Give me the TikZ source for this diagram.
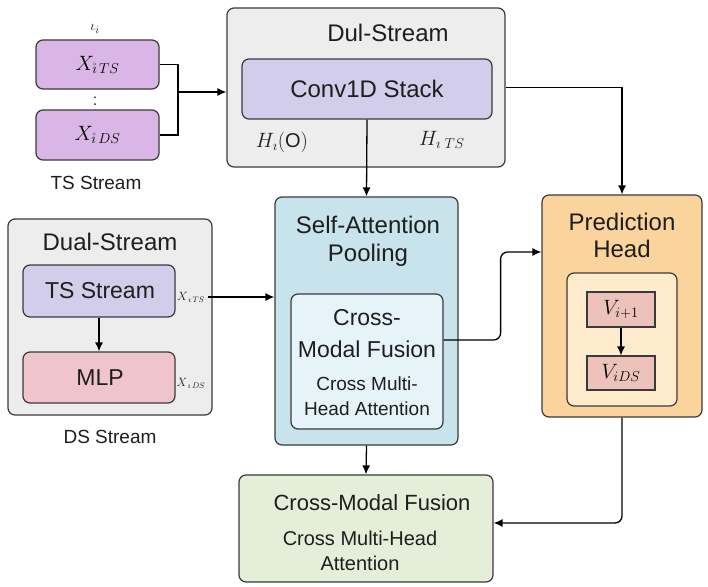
\documentclass[tikz,border=0pt]{standalone}
\usepackage{fontspec}
\setmainfont{Liberation Sans}
\usetikzlibrary{arrows.meta}
\definecolor{ink}{HTML}{1E1E1E}
\definecolor{edge}{HTML}{3A3A3A}
\definecolor{lilac}{HTML}{D9B6E5}
\definecolor{panel}{HTML}{EEEDED}
\definecolor{lavender}{HTML}{D2CDEB}
\definecolor{rose}{HTML}{F0C4CB}
\definecolor{sky}{HTML}{C8E3EB}
\definecolor{skylight}{HTML}{E6F4F9}
\definecolor{peach}{HTML}{FAD39D}
\definecolor{cream}{HTML}{FDEBCB}
\definecolor{salmon}{HTML}{ECC2BA}
\definecolor{mint}{HTML}{E5EED8}
\begin{document}
\begin{tikzpicture}[x=1pt, y=-1pt,
    box/.style={draw=edge, line width=1.2pt, rounded corners=7pt, inner sep=0pt},
    sq/.style={draw=edge, line width=1.2pt, inner sep=0pt},
    big/.style={font=\fontsize{24}{28}\selectfont, text=ink},
    mid/.style={font=\fontsize{20}{25}\selectfont, text=ink},
    arr/.style={-{Latex[length=9pt,width=8pt]}, line width=1.3pt}]
    \useasboundingbox (0,0) rectangle (708,586);
    % TS stream inputs
    \node[box, fill=lilac, minimum width=123, minimum height=49] (xts) at (97.5,64.5) {\fontsize{21}{24}\selectfont $X_{\mathring{\imath}\,TS}$};
    \node[box, fill=lilac, minimum width=123, minimum height=50] (xds) at (97.5,135) {\fontsize{21}{24}\selectfont $X_{\mathring{\imath}\,DS}$};
    \node[text=ink, font=\fontsize{15}{18}\selectfont] (top) at (95,29) {$\iota_i$};
    \node[text=ink, font=\fontsize{16}{18}\selectfont] (dots) at (95,101) {:};
    \node[text=ink, font=\fontsize{19}{22}\selectfont] (tsname) at (96,183) {TS Stream};
    \coordinate (jn) at (178,92);
    % Dul-Stream block
    \node[box, fill=panel, minimum width=278, minimum height=159] (dul) at (366,87.5) {};
    \node[big] (dultitle) at (388,33) {Dul-Stream};
    \node[box, fill=lavender, minimum width=250, minimum height=60] (conv) at (367,89) {};
    \node[big] (convtext) at (367,89) {Conv1D Stack};
    \node[text=ink, font=\fontsize{20}{22}\selectfont] (hzero) at (282,142) {$H_{\imath}\mathrm{(O)}$};
    \node[text=ink, font=\fontsize{20}{22}\selectfont] (hts) at (442,140) {$H_{\imath\;TS}$};
    % Dual-Stream block
    \node[box, fill=panel, minimum width=204, minimum height=196] (dual) at (110,317) {};
    \node[big] (dualtitle) at (110,242) {Dual-Stream};
    \node[box, fill=lavender, minimum width=152, minimum height=52] (tss) at (99,291) {};
    \node[big, font=\fontsize{23}{26}\selectfont] (tsstext) at (100,291) {TS Stream};
    \node[box, fill=rose, minimum width=152, minimum height=51] (mlp) at (99,377.5) {};
    \node[big, font=\fontsize{23}{26}\selectfont] (mlptext) at (100,377.5) {MLP};
    \node[text=ink, font=\fontsize{12}{14}\selectfont] (lts) at (191,297) {$X_{\,\imath\,TS}$};
    \node[text=ink, font=\fontsize{12}{14}\selectfont] (lds) at (191,383) {$X_{\,\imath\,DS}$};
    \node[text=ink, font=\fontsize{19}{22}\selectfont] (dsname) at (110,437) {DS Stream};
    % Self-attention pooling
    \node[box, fill=sky, minimum width=183, minimum height=248] (sap) at (366.5,321) {};
    \node[big, align=center, font=\fontsize{24}{28}\selectfont] (saptitle) at (368,241) {Self-Attention\\Pooling};
    \node[box, fill=skylight, minimum width=152, minimum height=135] (cmf) at (367,361.5) {};
    \node[big, align=center, font=\fontsize{23}{32}\selectfont] (cmftitle) at (367,334) {Cross-\\Modal Fusion};
    \node[mid, align=center, font=\fontsize{19}{25}\selectfont] (cmftext) at (367,396) {Cross Multi-\\Head Attention};
    % Prediction head
    \node[box, fill=peach, minimum width=160, minimum height=222] (pred) at (622,306) {};
    \node[big, align=center, font=\fontsize{24}{27}\selectfont] (predtitle) at (622,235) {Prediction\\Head};
    \node[box, fill=cream, minimum width=110, minimum height=133] (predin) at (622,339.5) {};
    \node[sq, fill=salmon, minimum width=68, minimum height=35, font=\fontsize{20}{22}\selectfont] (vone) at (621,309.5) {$V_{i+1}$};
    \node[sq, fill=salmon, minimum width=68, minimum height=34, font=\fontsize{20}{22}\selectfont] (vds) at (621,373) {$V_{iDS}$};
    % Fusion output
    \node[box, fill=mint, minimum width=254, minimum height=107] (fuse) at (366,528.5) {};
    \node[big, font=\fontsize{22}{26}\selectfont] (fusetitle) at (372,503) {Cross-Modal Fusion};
    \node[mid, align=center, font=\fontsize{20}{25}\selectfont] (fusetext) at (360,551) {Cross Multi-Head\\Attention};
    % Connectors
    \draw[line width=1.3pt] (xts.east) -| (jn) |- (xds.east);
    \draw[arr] (jn) -- (jn -| dul.west);
    \draw[arr] (conv.south) -- (sap.north);
    \draw[arr] (dul.east) -| (pred.north);
    \draw[arr] (tss.south) -- (mlp.north);
    \draw[arr] (lts.east) -- (lts -| sap.west);
    \draw[arr, rounded corners=7pt] ([yshift=21.5pt]cmf.east) -- ++(57,0) |- ([yshift=54pt]pred.west);
    \draw[arr] (vone.south) -- (vds.north);
    \draw[arr] (sap.south) -- (fuse.north);
    \draw[arr, rounded corners=7pt] (pred.south) |- ([yshift=5.5pt]fuse.east);
\end{tikzpicture}
\end{document}
